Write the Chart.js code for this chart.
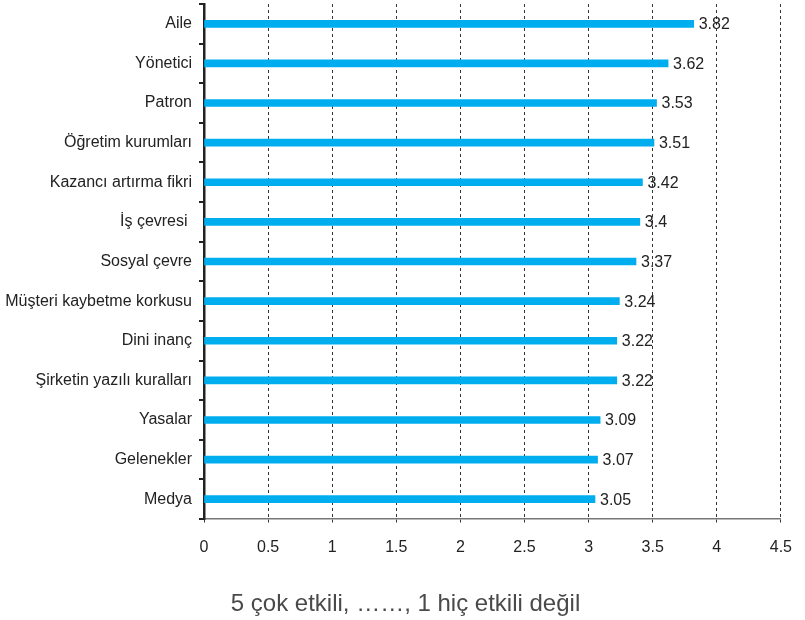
<!DOCTYPE html>
<html>
<head>
<meta charset="utf-8">
<script src="https://cdn.jsdelivr.net/npm/chart.js@4"></script>
<style>
  body { margin: 0; background: #fff; }
  #wrap { width: 805px; height: 620px; position: relative; }
</style>
</head>
<body>
<div id="wrap"><canvas id="chart"></canvas></div>
<script>
// Datos del gráfico
const categories = [
    "Aile", "Yönetici", "Patron", "Öğretim kurumları", "Kazancı artırma fikri",
    "İş çevresi ", "Sosyal çevre", "Müşteri kaybetme korkusu", "Dini inanç",
    "Şirketin yazılı kuralları", "Yasalar", "Gelenekler", "Medya"
];
const scores = [3.82, 3.62, 3.53, 3.51, 3.42, 3.4, 3.37, 3.24, 3.22, 3.22, 3.09, 3.07, 3.05];
const xTickLabels = ["0", "0.5", "1", "1.5", "2", "2.5", "3", "3.5", "4", "4.5"];
const axisTitle = "5 çok etkili, ……, 1 hiç etkili değil";

const labelFont = "'Liberation Sans', Arial, sans-serif";

// Etiquetas de valor al final de cada barra
const valueLabels = {
    id: "valueLabels",
    afterDatasetsDraw(chart) {
        const ctx = chart.ctx;
        const meta = chart.getDatasetMeta(0);
        ctx.save();
        ctx.font = "16px " + labelFont;
        ctx.fillStyle = "#222";
        ctx.textAlign = "left";
        ctx.textBaseline = "middle";
        meta.data.forEach((bar, i) => {
            ctx.fillText(String(scores[i]), bar.x + 5, bar.y + 1);
        });
        ctx.restore();
    }
};

// Título inferior centrado en todo el lienzo
const bottomTitle = {
    id: "bottomTitle",
    afterDraw(chart) {
        const ctx = chart.ctx;
        ctx.save();
        ctx.font = "24px " + labelFont;
        ctx.fillStyle = "#4a4a4a";
        ctx.textAlign = "center";
        ctx.textBaseline = "middle";
        ctx.fillText(axisTitle, chart.width / 2 + 3, 604);
        ctx.restore();
    }
};

new Chart(document.getElementById("chart"), {
    type: "bar",
    data: {
        labels: categories,
        datasets: [{
            data: scores,
            backgroundColor: "#00aeef",
            barThickness: 7
        }]
    },
    options: {
        indexAxis: "y",
        responsive: true,
        maintainAspectRatio: false,
        animation: false,
        layout: { padding: { top: 4, right: 13, left: 0, bottom: 51 } },
        plugins: {
            legend: { display: false },
            tooltip: { enabled: false },
            title: { display: false }
        },
        scales: {
            x: {
                min: 0,
                max: 4.5,
                afterFit: s => { s.height = 50; },
                ticks: {
                    stepSize: 0.5,
                    color: "#222",
                    padding: 13,
                    font: { family: labelFont, size: 16 },
                    callback: (v, i) => xTickLabels[i]
                },
                grid: {
                    color: "#333",
                    lineWidth: 1,
                    borderDash: [3, 3],
                    tickLength: 6,
                    tickColor: "#333",
                    tickBorderDash: [3, 3]
                },
                border: { display: true, color: "#777", width: 1.5, dash: [3, 3] }
            },
            y: {
                // el eje empieza en x=204 y sin margen extra arriba
                afterFit: s => { s.width = 204; s.paddingTop = 0; s.paddingBottom = 0; },
                ticks: {
                    color: "#222",
                    padding: 7,
                    font: { family: labelFont, size: 16 }
                },
                grid: {
                    drawOnChartArea: false,
                    drawTicks: true,
                    tickLength: 5,
                    tickColor: "#222",
                    lineWidth: 2
                },
                border: { display: true, color: "#222", width: 2.5 }
            }
        }
    },
    plugins: [valueLabels, bottomTitle]
});
</script>
</body>
</html>
